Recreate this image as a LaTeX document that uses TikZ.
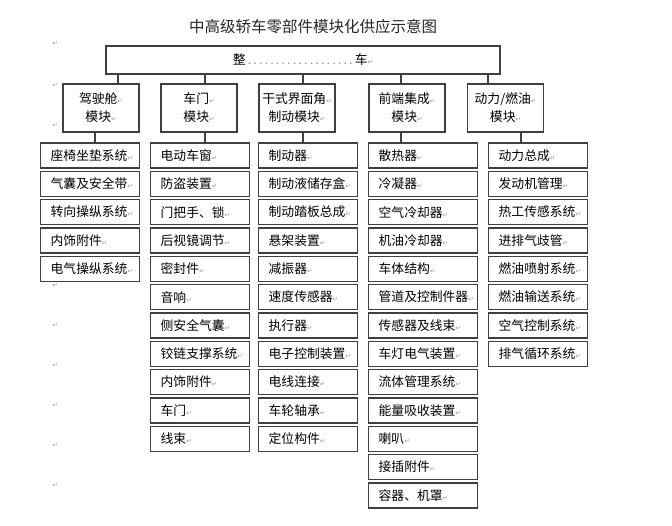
\documentclass[tikz,border=0pt]{standalone}
\usepackage{fontspec}
\setmainfont{Noto Sans CJK SC}
\newfontfamily\symfont{DejaVu Sans}

% paragraph mark left by the word processor
\newcommand{\ret}{{\symfont\fontsize{6.5}{7}\selectfont\color{black!40}↵}}

\begin{document}
\begin{tikzpicture}[x=1pt, y=-1pt,
    box/.style={draw=black!75, line width=1.3pt, text=black, inner sep=0pt},
    modbox/.style={box, minimum width=76pt, minimum height=48pt, align=center,
        font=\fontsize{12.8}{18}\selectfont},
    itembox/.style={box, anchor=north west, minimum width=99pt, minimum height=25pt,
        text width=79pt, align=left, font=\fontsize{12.8}{15}\selectfont},
    link/.style={draw=black!75, line width=1.3pt}]

    \useasboundingbox[fill=white] (0,0) rectangle (672,526);

    % Title
    \node[font=\fontsize{15.5}{18}\selectfont, text=black!85] (title) at (313,27)
        {中高级轿车零部件模块化供应示意图};

    % Whole car
    \node[box, minimum width=394pt, minimum height=28pt, font=\fontsize{12.8}{15}\selectfont]
        (car) at (303,60) {整\hbox to 109pt{\color{black!40}\dotfill}车\ret};

    % Modules
    \node[modbox] (m1) at (101,108) {驾驶舱\ret\\模块\ret};
    \node[modbox] (m2) at (199,108) {车门\ret\\模块\ret};
    \node[modbox] (m3) at (297,108) {干式界面角\ret\\制动模块\ret};
    \node[modbox] (m4) at (407,108) {前端集成\ret\\模块\ret};
    \node[modbox] (m5) at (505.5,108) {动力/燃油\ret\\模块\ret};

    % Parts of each module
    \foreach \t [count=\i] in {座椅坐垫系统, 气囊及安全带, 转向操纵系统, 内饰附件, 电气操纵系统}
        \node[itembox] (c1-\i) at (40, {142.3+28.33*(\i-1)}) {\t\ret};
    \foreach \t [count=\i] in {电动车窗, 防盗装置, 门把手、锁, 后视镜调节, 密封件, 音响,
        侧安全气囊, 铰链支撑系统, 内饰附件, 车门, 线束}
        \node[itembox] (c2-\i) at (150, {142.3+28.33*(\i-1)}) {\t\ret};
    \foreach \t [count=\i] in {制动器, 制动液储存盒, 制动踏板总成, 悬架装置, 减振器, 速度传感器,
        执行器, 电子控制装置, 电线连接, 车轮轴承, 定位构件}
        \node[itembox] (c3-\i) at (258, {142.3+28.33*(\i-1)}) {\t\ret};
    \foreach \t [count=\i] in {散热器, 冷凝器, 空气冷却器, 机油冷却器, 车体结构, 管道及控制件器,
        传感器及线束, 车灯电气装置, 流体管理系统, 能量吸收装置, 喇叭, 接插附件, 容器、机罩}
        \node[itembox, minimum width=109pt, text width=89pt] (c4-\i) at (368, {142.3+28.33*(\i-1)}) {\t\ret};
    \foreach \t [count=\i] in {动力总成, 发动机管理, 热工传感系统, 进排气歧管, 燃油喷射系统,
        燃油输送系统, 空气控制系统, 排气循环系统}
        \node[itembox] (c5-\i) at (488, {142.3+28.33*(\i-1)}) {\t\ret};

    % Links car -> modules
    \draw[link] ([xshift=17pt]m1.north) -- ([xshift=17pt]m1.north |- car.south);
    \draw[link] ([xshift=6pt]m2.north) -- ([xshift=6pt]m2.north |- car.south);
    \draw[link] ([xshift=6pt]m3.north) -- ([xshift=6pt]m3.north |- car.south);
    \draw[link] ([xshift=-6pt]m4.north) -- ([xshift=-6pt]m4.north |- car.south);
    \draw[link] ([xshift=-17.5pt]m5.north) -- ([xshift=-17.5pt]m5.north |- car.south);

    % Links modules -> parts
    \draw[link] ([xshift=-6pt]m1.south) -- ([xshift=-6pt]m1.south |- c1-1.north);
    \draw[link] ([xshift=6pt]m2.south) -- ([xshift=6pt]m2.south |- c2-1.north);
    \draw[link] ([xshift=6pt]m3.south) -- ([xshift=6pt]m3.south |- c3-1.north);
    \draw[link] ([xshift=-6pt]m4.south) -- ([xshift=-6pt]m4.south |- c4-1.north);
    \draw[link] ([xshift=15.5pt]m5.south) -- ([xshift=15.5pt]m5.south |- c5-1.north);

    % Stray paragraph marks on the left
    \foreach \y [count=\i] in {43,85,125,285,325,365,405,445,485}
        \node (mark\i) at (55,\y) {\ret};
\end{tikzpicture}
\end{document}
